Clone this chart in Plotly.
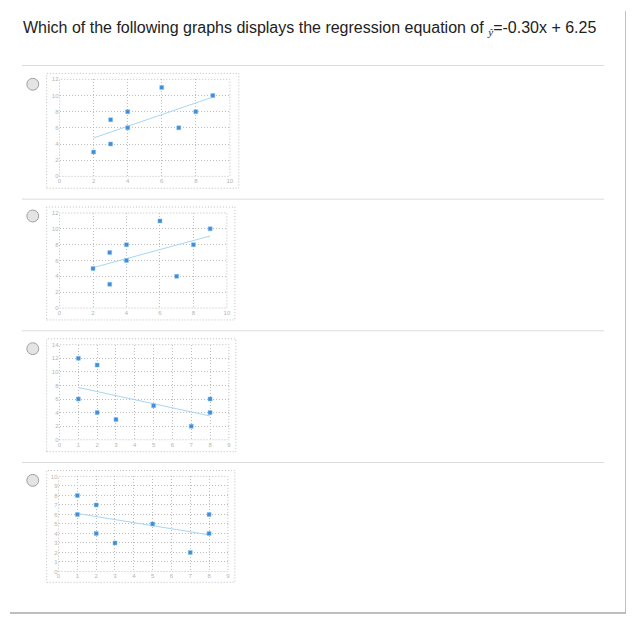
import plotly.graph_objects as go

# the page puts an 8px body margin round the figure, so shrink it by that
OFF = 8
W, H = 634 - OFF, 621 - OFF

# --- data ---
# option A
a_x = [2, 3, 3, 4, 4, 6, 7, 8, 9]
a_y = [3, 4, 7, 6, 8, 11, 6, 8, 10]
a_line_x = [2, 9]
a_line_y = [4.75, 9.8]

# option B
b_x = [2, 3, 3, 4, 4, 6, 7, 8, 9]
b_y = [5, 7, 3, 8, 6, 11, 4, 8, 10]
b_line_x = [2, 9]
b_line_y = [5.1, 9.1]

# option C
c_x = [1, 2, 1, 2, 3, 5, 7, 8, 8]
c_y = [12, 11, 6, 4, 3, 5, 2, 6, 4]
c_line_x = [1, 8]
c_line_y = [7.7, 3.5]

# option D
d_x = [1, 2, 1, 2, 3, 5, 7, 8, 8]
d_y = [8, 7, 6, 4, 3, 5, 2, 6, 4]
d_line_x = [1, 8]
d_line_y = [6.1, 3.85]

series = [
    (a_x, a_y, a_line_x, a_line_y),
    (b_x, b_y, b_line_x, b_line_y),
    (c_x, c_y, c_line_x, c_line_y),
    (d_x, d_y, d_line_x, d_line_y),
]

# axis setup per option: (x range, x step, y range, y step)
axis_cfg = [
    ([0, 10], 2, [0, 12], 2),
    ([0, 10], 2, [0, 12], 2),
    ([0, 9], 1, [0, 14], 2),
    ([0, 9], 1, [0, 10], 1),
]

# pixel boxes (page coords): plot area (x0, x1, y0, y1) and outer frame
plot_px = [
    (58, 230, 77, 175),
    (58, 227, 212, 308),
    (58, 229, 345, 441),
    (57, 228, 478, 574),
]
frame_px = [
    (45, 239, 71, 187),
    (45, 235, 206, 320),
    (45, 236, 339, 453),
    (45, 235, 472, 585),
]
radio_y = [82, 215, 349, 482]
sep_y = [63, 198, 331, 464]


def px(x):
    return (x - OFF) / W


def py(y):
    return 1 - (y - OFF) / H


fig = go.Figure()
shapes = []
grid = '#bdbdbd'
dots = '1px,2px'

for i, (xs, ys, lx, ly) in enumerate(series):
    n = '' if i == 0 else str(i + 1)
    xr, xd, yr, yd = axis_cfg[i]
    x0, x1, y0, y1 = plot_px[i]

    fig.add_trace(go.Scatter(
        x=lx, y=ly, mode='lines', xaxis='x' + n, yaxis='y' + n,
        line=dict(color='#a8d6f2', width=1), hoverinfo='skip'))
    fig.add_trace(go.Scatter(
        x=xs, y=ys, mode='markers', xaxis='x' + n, yaxis='y' + n,
        marker=dict(color='#3a8edb', size=4, symbol='square',
                    line=dict(color='#8cc0ee', width=0.5))))

    common = dict(showgrid=True, gridcolor=grid, griddash=dots, gridwidth=1,
                  zeroline=False, showline=False, ticks='',
                  tickfont=dict(size=6, color='#b4b4b4', family='Arial'),
                  fixedrange=True)
    fig.update_layout(**{
        'xaxis' + n: dict(domain=[px(x0), px(x1)], range=xr, dtick=xd,
                          anchor='y' + n, **common),
        'yaxis' + n: dict(domain=[py(y1), py(y0)], range=yr, dtick=yd,
                          anchor='x' + n, **common),
    })

    # dotted border of plot area
    shapes.append(dict(type='rect', xref='x' + n + ' domain', yref='y' + n + ' domain',
                       x0=0, x1=1, y0=0, y1=1,
                       line=dict(color=grid, width=1, dash=dots)))
    # dotted outer frame
    fx0, fx1, fy0, fy1 = frame_px[i]
    shapes.append(dict(type='rect', xref='paper', yref='paper',
                       x0=px(fx0), x1=px(fx1), y0=py(fy1), y1=py(fy0),
                       line=dict(color=grid, width=1, dash=dots)))
    # radio button
    ry = radio_y[i]
    shapes.append(dict(type='circle', xref='paper', yref='paper',
                       x0=px(25), x1=px(37), y0=py(ry + 6), y1=py(ry - 6),
                       fillcolor='#e4e4e4', line=dict(color='#a0a0a0', width=1)))
    # separator above each option
    shapes.append(dict(type='line', xref='paper', yref='paper',
                       x0=px(20), x1=px(608), y0=py(sep_y[i]), y1=py(sep_y[i]),
                       line=dict(color='#dcdcdc', width=1)))

# page border right and bottom
shapes.append(dict(type='line', xref='paper', yref='paper',
                   x0=px(630), x1=px(630), y0=py(OFF), y1=py(616),
                   line=dict(color='#a8a8a8', width=1.5)))
shapes.append(dict(type='line', xref='paper', yref='paper',
                   x0=px(OFF), x1=px(630), y0=py(616), y1=py(616),
                   line=dict(color='#a8a8a8', width=1.5)))

fig.update_layout(
    width=W, height=H,
    margin=dict(l=0, r=0, t=0, b=0),
    paper_bgcolor='white', plot_bgcolor='white',
    showlegend=False,
    shapes=shapes,
    annotations=[dict(
        text="Which of the following graphs displays the regression equation of "
             "<span style='font-family:Liberation Serif'><sub><i>ŷ</i></sub></span>=-0.30x + 6.25",
        xref='paper', yref='paper', x=px(19), y=py(26),
        xanchor='left', yanchor='middle', showarrow=False,
        font=dict(family='Liberation Sans, Arial', size=16, color='#222222'))],
)

fig.write_html("out.html")
